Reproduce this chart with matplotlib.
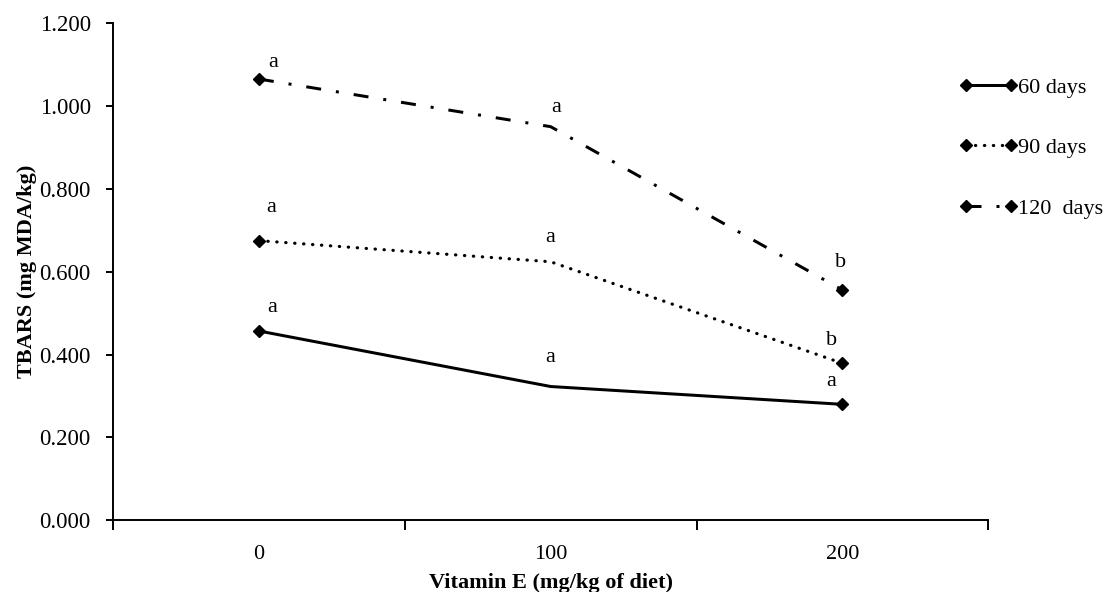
import numpy as np
import matplotlib.pyplot as plt
from matplotlib.lines import Line2D

plt.rcParams['font.family'] = ['Liberation Serif', 'DejaVu Serif']

doses = ['0', '100', '200']
days = ['60 days', '90 days', '120  days']
tbars_60 = [0.457, 0.323, 0.280]
tbars_90 = [0.675, 0.624, 0.379]
tbars_120 = [1.065, 0.950, 0.556]
letters_60 = ['a', 'a', 'a']
letters_90 = ['a', 'a', 'b']
letters_120 = ['a', 'a', 'b']

PX = 72 / 100.0  # points per pixel
styles = ['-', (0, (0.1, 2.7)), (0, (5, 5, 1, 5))]
widths = [3.0, 3.2, 3.0]
caps = ['butt', 'round', 'butt']
# label offsets (pixels) for each series
offs = [[(13, 23), (0, 29), (-11, 23)],
        [(12, 33), (0, 24), (-11, 23)],
        [(14, 17), (6, 19), (-2, 27)]]

fig = plt.figure(figsize=(11.08, 5.92), dpi=100)
ax = fig.add_axes([0.102, 0.121, 0.790, 0.840])

x = np.arange(len(doses))
series = [tbars_60, tbars_90, tbars_120]
letters = [letters_60, letters_90, letters_120]
handles = []
for i, vals in enumerate(series):
    ax.plot(x, vals, color='black', linestyle=styles[i], linewidth=widths[i] * PX,
            dash_capstyle=caps[i])
    ax.plot(x[[0, 2]], np.array(vals)[[0, 2]], linestyle='none', marker='D',
            color='black', markersize=6)
    for j, v in enumerate(vals):
        dx, dy = offs[i][j]
        ax.annotate(letters[i][j], (x[j], v), xytext=(dx * PX, dy * PX),
                    textcoords='offset points', ha='center', va='center', fontsize=16)
    handles.append(Line2D([], [], color='black', linestyle=styles[i],
                          linewidth=widths[i] * PX, dash_capstyle=caps[i],
                          marker='D', markersize=6))

ax.set_xlim(-0.5, 2.5)
ax.set_ylim(0, 1.2)
ax.set_yticks(np.arange(0, 1.21, 0.2))
ax.set_yticklabels(['%.3f' % t for t in np.arange(0, 1.21, 0.2)])
ax.set_xticks(x)
ax.set_xticklabels(doses)
ax.set_xticks([-0.5, 0.5, 1.5, 2.5], minor=True)
ax.tick_params(axis='x', which='major', length=0, labelsize=16, pad=18)
ax.tick_params(axis='x', which='minor', length=7, width=1.4, direction='out')
ax.tick_params(axis='y', length=5, width=1.4, labelsize=16.5, pad=11)
for s in ['top', 'right']:
    ax.spines[s].set_visible(False)
for s in ['left', 'bottom']:
    ax.spines[s].set_linewidth(1.4)

ax.set_xlabel('Vitamin E (mg/kg of diet)', fontsize=16, fontweight='bold', labelpad=6)
ax.set_ylabel('TBARS (mg MDA/kg)', fontsize=16, fontweight='bold', labelpad=2)

fig.legend(handles, days, loc='upper left', bbox_to_anchor=(0.858, 0.885),
           frameon=False, fontsize=16, handlelength=2.6, handletextpad=0.05,
           labelspacing=1.8, numpoints=2, borderaxespad=0)

fig.savefig('out.png', dpi=100)
